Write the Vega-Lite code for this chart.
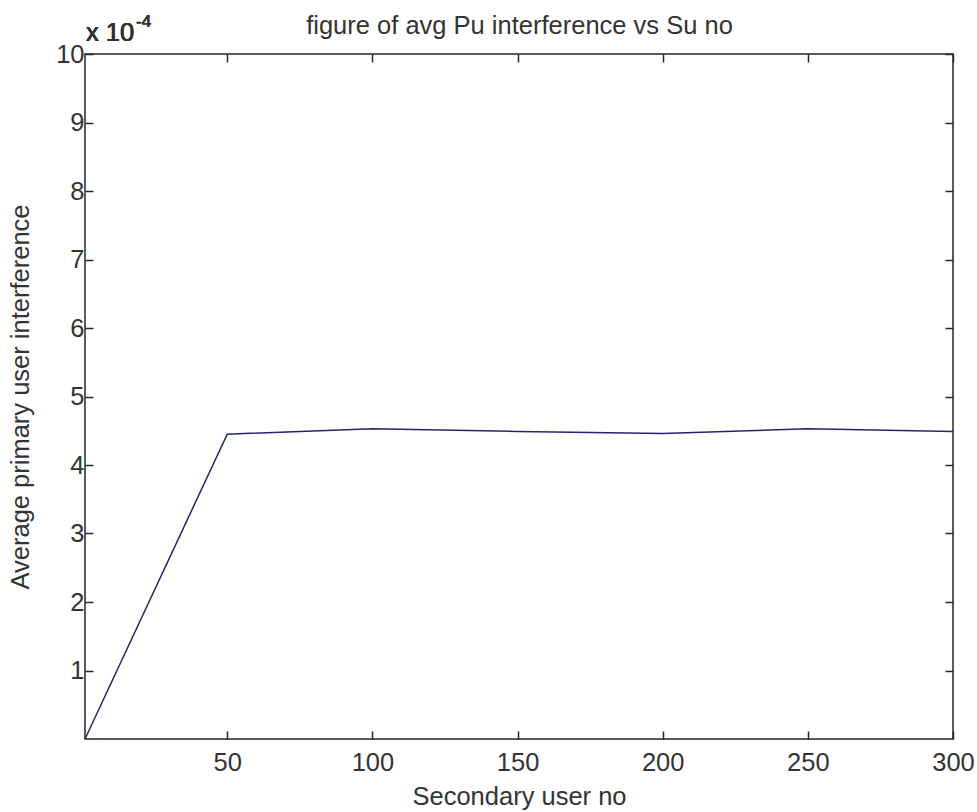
{
  "$schema": "https://vega.github.io/schema/vega-lite/v6.json",
  "width": 868,
  "height": 685,
  "autosize": {"type": "none"},
  "padding": {"left": 85, "top": 54, "right": 24, "bottom": 73},
  "background": "white",
  "config": {
    "font": "Liberation Sans",
    "view": {"stroke": "#262626", "strokeWidth": 1.5},
    "axis": {
      "grid": false,
      "domain": false,
      "ticks": true,
      "tickSize": -8,
      "tickColor": "#262626",
      "tickWidth": 1.5,
      "labelFlush": false,
      "labelFont": "Liberation Sans",
      "labelFontSize": 25.5,
      "labelColor": "#333333",
      "titleFont": "Liberation Sans",
      "titleFontSize": 25.5,
      "titleFontWeight": "normal",
      "titleColor": "#333333"
    }
  },
  "data": {
    "values": [
      {"su": 1, "interference": 0.0},
      {"su": 50, "interference": 0.000445},
      {"su": 100, "interference": 0.000453},
      {"su": 150, "interference": 0.000449},
      {"su": 200, "interference": 0.000446},
      {"su": 250, "interference": 0.000453},
      {"su": 300, "interference": 0.000449}
    ]
  },
  "layer": [
    {
      "layer": [
        {
          "mark": {"type": "line", "color": "#24246e", "strokeWidth": 1.5},
          "encoding": {
            "x": {
              "field": "su",
              "type": "quantitative",
              "scale": {"domain": [1, 300], "nice": false, "zero": false},
              "axis": {
                "orient": "bottom",
                "values": [50, 100, 150, 200, 250, 300],
                "labelPadding": 19,
                "title": "Secondary user no",
                "titlePadding": 9
              }
            },
            "y": {
              "field": "interference",
              "type": "quantitative",
              "scale": {"domain": [0, 0.001], "nice": false},
              "axis": {
                "orient": "left",
                "values": [0.0001, 0.0002, 0.0003, 0.0004, 0.0005, 0.0006, 0.0007, 0.0008, 0.0009, 0.001],
                "labelExpr": "format(datum.value * 10000, 'd')",
                "labelPadding": 9,
                "title": "Average primary user interference",
                "titlePadding": 22
              }
            }
          }
        },
        {
          "mark": {"type": "text", "align": "left", "baseline": "alphabetic", "dx": 1, "dy": -13, "fontSize": 25.5, "fontWeight": "normal", "color": "#333333", "font": "Liberation Sans"},
          "encoding": {
            "x": {"datum": 1},
            "y": {"datum": 0.001},
            "text": {"value": "x 10"}
          }
        },
        {
          "mark": {"type": "text", "align": "left", "baseline": "alphabetic", "dx": 51, "dy": -27, "fontSize": 17, "fontWeight": "normal", "color": "#333333", "font": "Liberation Sans"},
          "encoding": {
            "x": {"datum": 1},
            "y": {"datum": 0.001},
            "text": {"value": "-4"}
          }
        }
      ]
    },
    {
      "mark": {"type": "line", "opacity": 0},
      "encoding": {
        "x": {
          "field": "su",
          "type": "quantitative",
          "scale": {"domain": [1, 300], "nice": false, "zero": false},
          "axis": {
            "orient": "top",
            "values": [50, 100, 150, 200, 250, 300],
            "labels": false,
            "title": "figure of avg Pu interference vs Su no",
            "titlePadding": 15
          }
        },
        "y": {
          "field": "interference",
          "type": "quantitative",
          "scale": {"domain": [0, 0.001], "nice": false},
          "axis": {
            "orient": "right",
            "values": [0.0001, 0.0002, 0.0003, 0.0004, 0.0005, 0.0006, 0.0007, 0.0008, 0.0009, 0.001],
            "labels": false,
            "title": null
          }
        }
      }
    }
  ],
  "resolve": {"scale": {"x": "independent", "y": "independent"}}
}
